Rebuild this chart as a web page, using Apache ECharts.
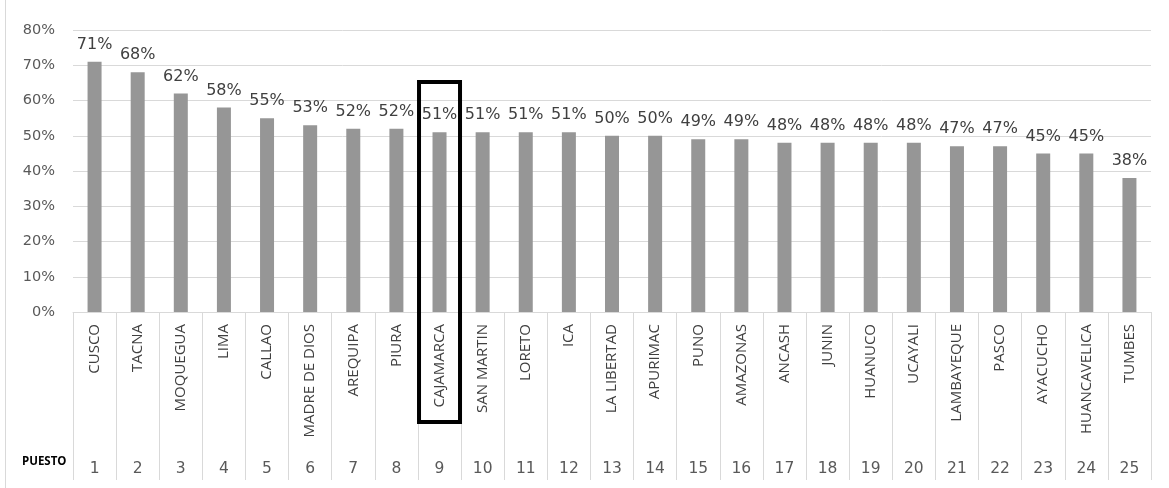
<!DOCTYPE html>
<html>
<head>
<meta charset="utf-8">
<script src="https://cdn.jsdelivr.net/npm/echarts@6/dist/echarts.min.js"></script>
<style>
  html, body { margin: 0; padding: 0; background: #ffffff; }
  #chart { width: 1169px; height: 488px; }
</style>
</head>
<body>
<div id="chart"></div>
<script>
// Regions ranked by share (%)
const regions = ['CUSCO', 'TACNA', 'MOQUEGUA', 'LIMA', 'CALLAO', 'MADRE DE DIOS', 'AREQUIPA', 'PIURA',
  'CAJAMARCA', 'SAN MARTIN', 'LORETO', 'ICA', 'LA LIBERTAD', 'APURIMAC', 'PUNO', 'AMAZONAS',
  'ANCASH', 'JUNIN', 'HUANUCO', 'UCAYALI', 'LAMBAYEQUE', 'PASCO', 'AYACUCHO', 'HUANCAVELICA', 'TUMBES'];
const shares = [71, 68, 62, 58, 55, 53, 52, 52, 51, 51, 51, 51, 50, 50, 49, 49, 48, 48, 48, 48, 47, 47, 45, 45, 38];
const ranks = ['1', '2', '3', '4', '5', '6', '7', '8', '9', '10', '11', '12', '13', '14', '15', '16',
  '17', '18', '19', '20', '21', '22', '23', '24', '25'];
const rankTitle = 'PUESTO';
const highlighted = 'CAJAMARCA';

const chart = echarts.init(document.getElementById('chart'), null, { renderer: 'canvas' });

const baseGraphics = [
  {
    type: 'text',
    left: 22,
    top: 456,
    style: { text: rankTitle, fill: '#000000', font: 'bold 11.5px "Open Sans"' }
  },
  {
    type: 'line',
    shape: { x1: 5.5, y1: 0, x2: 5.5, y2: 488 },
    style: { stroke: '#d9d9d9', lineWidth: 1 }
  }
];

const option = {
  backgroundColor: '#ffffff',
  animation: false,
  grid: { left: 73, right: 18, top: 30, bottom: 176, containLabel: false },
  xAxis: [
    {
      type: 'category',
      data: regions,
      axisLine: { show: true, lineStyle: { color: '#d9d9d9', width: 1 } },
      axisTick: { show: true, length: 168, lineStyle: { color: '#d9d9d9', width: 1 } },
      axisLabel: {
        rotate: 90,
        interval: 0,
        margin: 12,
        color: '#404040',
        fontFamily: 'Open Sans',
        fontSize: 15
      }
    },
    {
      type: 'category',
      data: ranks,
      position: 'bottom',
      offset: 141,
      axisLine: { show: false },
      axisTick: { show: false },
      axisLabel: {
        interval: 0,
        margin: 8,
        color: '#595959',
        fontFamily: 'DejaVu Sans',
        fontSize: 15.5
      }
    }
  ],
  yAxis: {
    type: 'value',
    min: 0,
    max: 80,
    interval: 10,
    axisLine: { show: false },
    axisTick: { show: false },
    splitLine: { lineStyle: { color: '#d9d9d9', width: 1 } },
    axisLabel: {
      formatter: '{value}%',
      margin: 18,
      color: '#595959',
      fontFamily: 'DejaVu Sans',
      fontSize: 14.5
    }
  },
  series: [
    {
      type: 'bar',
      xAxisIndex: 0,
      data: shares,
      barWidth: 14,
      itemStyle: { color: '#969696' },
      label: {
        show: true,
        position: 'top',
        distance: 9,
        formatter: '{c}%',
        color: '#404040',
        fontFamily: 'DejaVu Sans',
        fontSize: 16
      }
    }
  ],
  graphic: baseGraphics
};
chart.setOption(option);

// Box framing the highlighted region's bar and label
const idx = regions.indexOf(highlighted);
const topPt = chart.convertToPixel({ xAxisIndex: 0, yAxisIndex: 0 }, [idx, 65]);
const basePt = chart.convertToPixel({ xAxisIndex: 0, yAxisIndex: 0 }, [idx, 0]);
const halfW = 20.5;
chart.setOption({
  graphic: baseGraphics.concat([
    {
      type: 'rect',
      z: 100,
      shape: { x: topPt[0] - halfW, y: topPt[1] - 1, width: halfW * 2, height: basePt[1] + 111 - topPt[1] },
      style: { fill: 'none', stroke: '#000000', lineWidth: 4 }
    }
  ])
}, { replaceMerge: ['graphic'] });
</script>
</body>
</html>
